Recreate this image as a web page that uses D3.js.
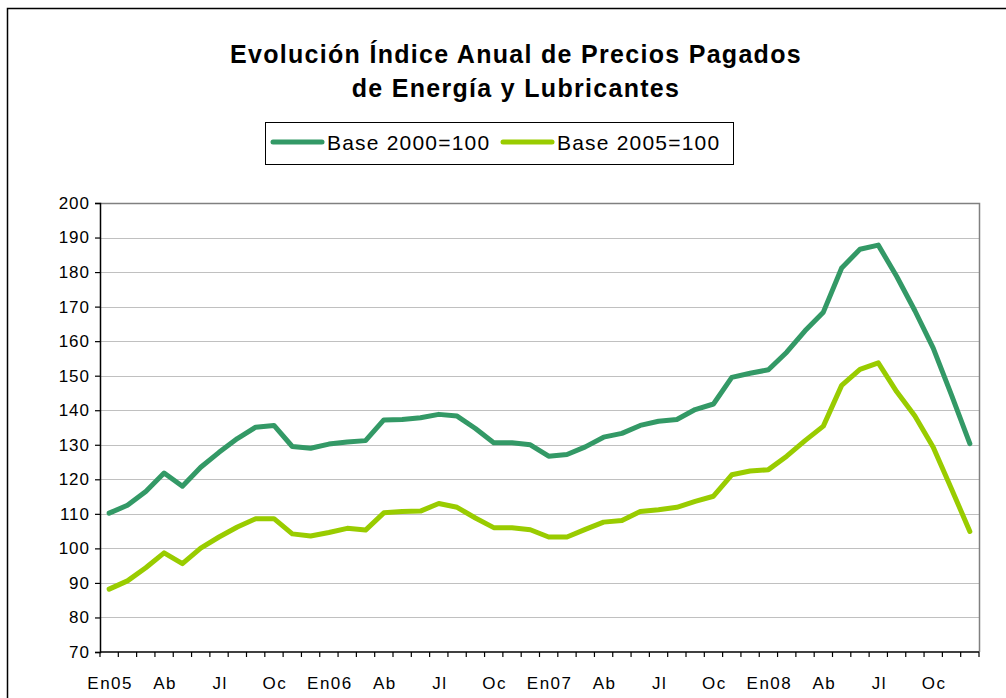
<!DOCTYPE html>
<html>
<head>
<meta charset="utf-8">
<script src="https://cdn.jsdelivr.net/npm/d3@7"></script>
<style>
  html, body { margin: 0; padding: 0; background: #fff; }
  svg { display: block; font-family: "Liberation Sans", Arial, sans-serif; }
</style>
</head>
<body>
<svg id="chart" width="1006" height="698"></svg>
<script>
// ---- Data ----
const months = ["En05","Fb","Mr","Ab","My","Jn","Jl","Ag","Sp","Oc","Nv","Dc",
                "En06","Fb","Mr","Ab","My","Jn","Jl","Ag","Sp","Oc","Nv","Dc",
                "En07","Fb","Mr","Ab","My","Jn","Jl","Ag","Sp","Oc","Nv","Dc",
                "En08","Fb","Mr","Ab","My","Jn","Jl","Ag","Sp","Oc","Nv","Dc"];
const tickLabelEvery = 3;
const base2000 = [110.2,112.5,116.5,121.8,118.0,123.5,127.8,131.8,135.1,135.6,129.5,129.0,
                  130.2,130.8,131.2,137.2,137.3,137.8,138.8,138.3,134.7,130.6,130.6,130.0,
                  126.7,127.2,129.4,132.2,133.3,135.6,136.8,137.3,140.2,141.8,149.5,150.7,
                  151.7,156.8,163.0,168.4,181.2,186.6,187.8,178.8,168.8,158.0,144.4,130.3];
const base2005 = [88.2,90.6,94.4,98.7,95.6,100.1,103.3,106.2,108.6,108.6,104.2,103.6,
                  104.6,105.8,105.3,110.3,110.7,110.8,113.0,111.9,108.8,106.0,106.0,105.4,
                  103.3,103.3,105.5,107.6,108.1,110.7,111.2,111.9,113.6,115.1,121.3,122.4,
                  122.8,126.7,131.2,135.4,147.2,151.8,153.7,145.4,138.3,129.3,117.2,104.9];
const seriesNames = ["Base 2000=100", "Base 2005=100"];
const seriesColors = ["#339966", "#99CC00"];
const yTicks = [70,80,90,100,110,120,130,140,150,160,170,180,190,200];
const titleLines = ["Evolución Índice Anual de Precios Pagados", "de Energía y Lubricantes"];

// ---- Layout ----
const svg = d3.select("#chart");
const plot = {left: 100, right: 979, top: 203, bottom: 652};

// outer frame
svg.append("rect").attr("x", 7.5).attr("y", 8.5).attr("width", 1010).attr("height", 700)
  .attr("fill", "#fff").attr("stroke", "#000").attr("stroke-width", 1.5);

const x = d3.scaleBand().domain(months.map((m, i) => i)).range([plot.left, plot.right]);
const y = d3.scaleLinear().domain([70, 200]).range([plot.bottom, plot.top]);
const xc = i => x(i) + x.bandwidth() / 2;

// gridlines
svg.append("g").selectAll("line").data(yTicks.filter(t => t > 70)).join("line")
  .attr("x1", plot.left).attr("x2", plot.right)
  .attr("y1", d => Math.round(y(d)) + 0.5).attr("y2", d => Math.round(y(d)) + 0.5)
  .attr("stroke", "#c0c0c0").attr("stroke-width", 1);

// plot border top/right (gray)
svg.append("path")
  .attr("d", `M${plot.left},${plot.top + 0.5}H${plot.right + 0.5}V${plot.bottom}`)
  .attr("fill", "none").attr("stroke", "#808080").attr("stroke-width", 1.5);

// y axis
const yAxis = d3.axisLeft(y).tickValues(yTicks).tickSize(5).tickPadding(5).tickFormat(d3.format("d"));
const gy = svg.append("g").attr("transform", `translate(${plot.left},0)`).call(yAxis);
gy.select(".domain").attr("stroke", "#000").attr("stroke-width", 1.5);
gy.selectAll(".tick line").attr("stroke", "#000").attr("stroke-width", 1.2);
gy.selectAll("text").attr("font-size", 17).attr("fill", "#000").attr("letter-spacing", 1)
  .attr("font-family", "Liberation Sans, Arial, sans-serif");

// x axis: ticks at category boundaries
const gx = svg.append("g").attr("transform", `translate(0,${plot.bottom})`);
gx.append("line").attr("x1", plot.left).attr("x2", plot.right).attr("y1", 0).attr("y2", 0)
  .attr("stroke", "#000").attr("stroke-width", 1.5);
const boundaries = d3.range(months.length + 1).map(i => i < months.length ? x(i) : plot.right);
gx.selectAll("line.tk").data(boundaries).join("line").attr("class", "tk")
  .attr("x1", d => d).attr("x2", d => d).attr("y1", 0).attr("y2", 5)
  .attr("stroke", "#000").attr("stroke-width", 1.2);
gx.selectAll("text").data(months.map((m, i) => ({m, i})).filter(d => d.i % tickLabelEvery === 0)).join("text")
  .attr("x", d => xc(d.i) + 1).attr("y", 37).attr("text-anchor", "middle")
  .attr("font-size", 17).attr("letter-spacing", 1.5).attr("fill", "#000")
  .text(d => d.m);

// lines
const series = [base2000, base2005];
const line = d3.line().x((d, i) => xc(i)).y(d => y(d));
series.forEach((s, k) => {
  svg.append("path").datum(s).attr("d", line)
    .attr("fill", "none").attr("stroke", seriesColors[k]).attr("stroke-width", 5)
    .attr("stroke-linejoin", "round").attr("stroke-linecap", "round");
});

// title
svg.append("g").selectAll("text").data(titleLines).join("text")
  .attr("x", 516).attr("y", (d, i) => 63 + i * 34).attr("text-anchor", "middle")
  .attr("font-size", 25).attr("font-weight", "bold").attr("letter-spacing", 1.3).attr("fill", "#000")
  .text(d => d);

// legend
const lg = svg.append("g");
lg.append("rect").attr("x", 265.5).attr("y", 122.5).attr("width", 468).attr("height", 42)
  .attr("fill", "#fff").attr("stroke", "#000").attr("stroke-width", 1);
const legendX = [273, 503];
seriesNames.forEach((n, k) => {
  lg.append("line").attr("x1", legendX[k]).attr("x2", legendX[k] + 49)
    .attr("y1", 142).attr("y2", 142).attr("stroke", seriesColors[k])
    .attr("stroke-width", 5).attr("stroke-linecap", "round");
  lg.append("text").attr("x", legendX[k] + 54).attr("y", 150)
    .attr("font-size", 21).attr("letter-spacing", 1.2).attr("fill", "#000").text(n);
});
</script>
</body>
</html>
